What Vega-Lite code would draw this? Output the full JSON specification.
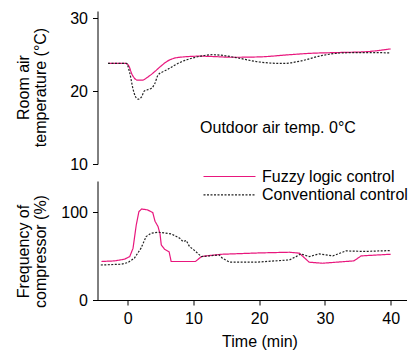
{
  "$schema": "https://vega.github.io/schema/vega-lite/v6.json",
  "padding": {"left": 14.5, "top": 10, "right": 5, "bottom": 5},
  "bounds": "flush",
  "spacing": 17,
  "config": {
    "view": {"stroke": null},
    "font": "Liberation Sans",
    "axis": {
      "domainColor": "black", "tickColor": "black", "labelColor": "black", "titleColor": "black",
      "labelFontSize": 16, "titleFontSize": 16, "titleFontWeight": "normal", "grid": false,
      "tickSize": 5, "domainWidth": 1, "tickWidth": 1, "labelPadding": 5
    },
    "legend": {"labelFontSize": 16, "labelColor": "black"}
  },
  "datasets": {
    "series": [
      {"panel": "temp", "series": "Fuzzy logic control", "t": -3.0, "v": 23.8},
      {"panel": "temp", "series": "Fuzzy logic control", "t": -0.3, "v": 23.8},
      {"panel": "temp", "series": "Fuzzy logic control", "t": 0.2, "v": 23.4},
      {"panel": "temp", "series": "Fuzzy logic control", "t": 0.6, "v": 22.4},
      {"panel": "temp", "series": "Fuzzy logic control", "t": 1.0, "v": 21.8},
      {"panel": "temp", "series": "Fuzzy logic control", "t": 1.5, "v": 21.5},
      {"panel": "temp", "series": "Fuzzy logic control", "t": 2.2, "v": 21.5},
      {"panel": "temp", "series": "Fuzzy logic control", "t": 3.0, "v": 21.9},
      {"panel": "temp", "series": "Fuzzy logic control", "t": 4.0, "v": 22.6},
      {"panel": "temp", "series": "Fuzzy logic control", "t": 5.0, "v": 23.4},
      {"panel": "temp", "series": "Fuzzy logic control", "t": 6.0, "v": 24.1},
      {"panel": "temp", "series": "Fuzzy logic control", "t": 7.0, "v": 24.5},
      {"panel": "temp", "series": "Fuzzy logic control", "t": 8.5, "v": 24.7},
      {"panel": "temp", "series": "Fuzzy logic control", "t": 11.0, "v": 24.8},
      {"panel": "temp", "series": "Fuzzy logic control", "t": 13.0, "v": 24.75},
      {"panel": "temp", "series": "Fuzzy logic control", "t": 16.0, "v": 24.65},
      {"panel": "temp", "series": "Fuzzy logic control", "t": 20.0, "v": 24.7},
      {"panel": "temp", "series": "Fuzzy logic control", "t": 24.6, "v": 25.0},
      {"panel": "temp", "series": "Fuzzy logic control", "t": 28.0, "v": 25.2},
      {"panel": "temp", "series": "Fuzzy logic control", "t": 32.0, "v": 25.3},
      {"panel": "temp", "series": "Fuzzy logic control", "t": 36.0, "v": 25.4},
      {"panel": "temp", "series": "Fuzzy logic control", "t": 40.0, "v": 25.8},
      {"panel": "temp", "series": "Conventional control", "t": -3.0, "v": 23.8},
      {"panel": "temp", "series": "Conventional control", "t": -0.2, "v": 23.8},
      {"panel": "temp", "series": "Conventional control", "t": 0.3, "v": 22.5},
      {"panel": "temp", "series": "Conventional control", "t": 0.8, "v": 20.3},
      {"panel": "temp", "series": "Conventional control", "t": 1.2, "v": 19.2},
      {"panel": "temp", "series": "Conventional control", "t": 1.6, "v": 18.9},
      {"panel": "temp", "series": "Conventional control", "t": 2.1, "v": 19.2},
      {"panel": "temp", "series": "Conventional control", "t": 2.5, "v": 20.0},
      {"panel": "temp", "series": "Conventional control", "t": 3.0, "v": 20.2},
      {"panel": "temp", "series": "Conventional control", "t": 3.6, "v": 20.4},
      {"panel": "temp", "series": "Conventional control", "t": 4.1, "v": 21.0},
      {"panel": "temp", "series": "Conventional control", "t": 4.6, "v": 22.2},
      {"panel": "temp", "series": "Conventional control", "t": 5.2, "v": 22.6},
      {"panel": "temp", "series": "Conventional control", "t": 6.1, "v": 23.0},
      {"panel": "temp", "series": "Conventional control", "t": 7.0, "v": 23.5},
      {"panel": "temp", "series": "Conventional control", "t": 8.1, "v": 24.0},
      {"panel": "temp", "series": "Conventional control", "t": 10.1, "v": 24.6},
      {"panel": "temp", "series": "Conventional control", "t": 12.9, "v": 25.0},
      {"panel": "temp", "series": "Conventional control", "t": 14.5, "v": 24.9},
      {"panel": "temp", "series": "Conventional control", "t": 16.5, "v": 24.6},
      {"panel": "temp", "series": "Conventional control", "t": 20.0, "v": 24.0},
      {"panel": "temp", "series": "Conventional control", "t": 23.6, "v": 23.8},
      {"panel": "temp", "series": "Conventional control", "t": 26.1, "v": 24.1},
      {"panel": "temp", "series": "Conventional control", "t": 29.6, "v": 24.9},
      {"panel": "temp", "series": "Conventional control", "t": 32.7, "v": 25.25},
      {"panel": "temp", "series": "Conventional control", "t": 36.0, "v": 25.3},
      {"panel": "temp", "series": "Conventional control", "t": 40.0, "v": 25.25},
      {"panel": "freq", "series": "Fuzzy logic control", "t": -4.0, "v": 44},
      {"panel": "freq", "series": "Fuzzy logic control", "t": -2.0, "v": 44.7},
      {"panel": "freq", "series": "Fuzzy logic control", "t": -0.5, "v": 46.6},
      {"panel": "freq", "series": "Fuzzy logic control", "t": 0.3, "v": 49.6},
      {"panel": "freq", "series": "Fuzzy logic control", "t": 0.8, "v": 59},
      {"panel": "freq", "series": "Fuzzy logic control", "t": 1.3, "v": 86},
      {"panel": "freq", "series": "Fuzzy logic control", "t": 1.7, "v": 101},
      {"panel": "freq", "series": "Fuzzy logic control", "t": 2.1, "v": 104},
      {"panel": "freq", "series": "Fuzzy logic control", "t": 3.0, "v": 103},
      {"panel": "freq", "series": "Fuzzy logic control", "t": 3.8, "v": 100},
      {"panel": "freq", "series": "Fuzzy logic control", "t": 4.15, "v": 90},
      {"panel": "freq", "series": "Fuzzy logic control", "t": 4.6, "v": 84},
      {"panel": "freq", "series": "Fuzzy logic control", "t": 4.9, "v": 76},
      {"panel": "freq", "series": "Fuzzy logic control", "t": 5.1, "v": 63},
      {"panel": "freq", "series": "Fuzzy logic control", "t": 5.6, "v": 58},
      {"panel": "freq", "series": "Fuzzy logic control", "t": 6.3, "v": 55},
      {"panel": "freq", "series": "Fuzzy logic control", "t": 6.6, "v": 44},
      {"panel": "freq", "series": "Fuzzy logic control", "t": 10.3, "v": 44},
      {"panel": "freq", "series": "Fuzzy logic control", "t": 11.2, "v": 49.6},
      {"panel": "freq", "series": "Fuzzy logic control", "t": 12.0, "v": 50.5},
      {"panel": "freq", "series": "Fuzzy logic control", "t": 14.4, "v": 52.3},
      {"panel": "freq", "series": "Fuzzy logic control", "t": 20.0, "v": 53.8},
      {"panel": "freq", "series": "Fuzzy logic control", "t": 24.6, "v": 54.6},
      {"panel": "freq", "series": "Fuzzy logic control", "t": 26.1, "v": 53.5},
      {"panel": "freq", "series": "Fuzzy logic control", "t": 27.6, "v": 43.2},
      {"panel": "freq", "series": "Fuzzy logic control", "t": 29.6, "v": 42},
      {"panel": "freq", "series": "Fuzzy logic control", "t": 34.4, "v": 44.7},
      {"panel": "freq", "series": "Fuzzy logic control", "t": 35.5, "v": 50.4},
      {"panel": "freq", "series": "Fuzzy logic control", "t": 40.0, "v": 52.3},
      {"panel": "freq", "series": "Conventional control", "t": -4.1, "v": 40},
      {"panel": "freq", "series": "Conventional control", "t": -1.0, "v": 40.9},
      {"panel": "freq", "series": "Conventional control", "t": 0.0, "v": 42.7},
      {"panel": "freq", "series": "Conventional control", "t": 1.0, "v": 47.7},
      {"panel": "freq", "series": "Conventional control", "t": 2.0, "v": 59},
      {"panel": "freq", "series": "Conventional control", "t": 2.8, "v": 72.5},
      {"panel": "freq", "series": "Conventional control", "t": 3.55, "v": 76.4},
      {"panel": "freq", "series": "Conventional control", "t": 4.6, "v": 77.5},
      {"panel": "freq", "series": "Conventional control", "t": 6.6, "v": 75.6},
      {"panel": "freq", "series": "Conventional control", "t": 7.9, "v": 70.7},
      {"panel": "freq", "series": "Conventional control", "t": 8.4, "v": 66.8},
      {"panel": "freq", "series": "Conventional control", "t": 8.9, "v": 68},
      {"panel": "freq", "series": "Conventional control", "t": 9.4, "v": 61},
      {"panel": "freq", "series": "Conventional control", "t": 10.1, "v": 57},
      {"panel": "freq", "series": "Conventional control", "t": 11.2, "v": 49.6},
      {"panel": "freq", "series": "Conventional control", "t": 12.5, "v": 50.5},
      {"panel": "freq", "series": "Conventional control", "t": 13.9, "v": 51.5},
      {"panel": "freq", "series": "Conventional control", "t": 14.4, "v": 47.7},
      {"panel": "freq", "series": "Conventional control", "t": 15.5, "v": 43.2},
      {"panel": "freq", "series": "Conventional control", "t": 19.5, "v": 43.2},
      {"panel": "freq", "series": "Conventional control", "t": 24.6, "v": 45.8},
      {"panel": "freq", "series": "Conventional control", "t": 25.6, "v": 49.6},
      {"panel": "freq", "series": "Conventional control", "t": 26.35, "v": 52.7},
      {"panel": "freq", "series": "Conventional control", "t": 27.6, "v": 49.6},
      {"panel": "freq", "series": "Conventional control", "t": 29.1, "v": 52.7},
      {"panel": "freq", "series": "Conventional control", "t": 31.2, "v": 50.4},
      {"panel": "freq", "series": "Conventional control", "t": 33.2, "v": 56.1},
      {"panel": "freq", "series": "Conventional control", "t": 36.0, "v": 55.5},
      {"panel": "freq", "series": "Conventional control", "t": 40.0, "v": 56.5}
    ],
    "notes": [
      {"t": 11.0, "v": 15.0, "label": "Outdoor air temp. 0°C"}
    ]
  },
  "resolve": {"scale": {"color": "independent", "strokeDash": "independent"}},
  "vconcat": [
    {
      "width": 309,
      "height": 153,
      "layer": [
        {
          "data": {"name": "series"},
          "transform": [{"filter": "datum.panel === 'temp'"}],
          "mark": {"type": "line", "strokeWidth": 1.2, "interpolate": "monotone"},
          "encoding": {
            "x": {"field": "t", "type": "quantitative", "scale": {"domain": [-4.6, 42.4], "nice": false}, "axis": null},
            "y": {"field": "v", "type": "quantitative", "scale": {"domain": [10, 31], "nice": false, "zero": false},
              "axis": {"values": [10, 20, 30], "title": ["Room air", "temperature (°C)"], "titleLineHeight": 17, "titleBaseline": "middle", "titleX": -74, "titleY": 76}},
            "color": {"field": "series", "type": "nominal", "scale": {"domain": ["Fuzzy logic control", "Conventional control"], "range": ["#e8177d", "#222222"]}, "legend": null},
            "strokeDash": {"field": "series", "type": "nominal", "scale": {"domain": ["Fuzzy logic control", "Conventional control"], "range": [[1, 0], [2, 1.5]]}, "legend": null}
          }
        },
        {
          "data": {"name": "notes"},
          "mark": {"type": "text", "align": "left", "baseline": "middle", "fontSize": 16, "color": "black"},
          "encoding": {
            "x": {"field": "t", "type": "quantitative"},
            "y": {"field": "v", "type": "quantitative"},
            "text": {"field": "label"}
          }
        }
      ]
    },
    {
      "width": 309,
      "height": 119,
      "data": {"name": "series"},
      "transform": [{"filter": "datum.panel === 'freq'"}],
      "mark": {"type": "line", "strokeWidth": 1.2},
      "encoding": {
        "x": {"field": "t", "type": "quantitative", "scale": {"domain": [-4.6, 42.4], "nice": false},
          "axis": {"values": [0, 10, 20, 30, 40], "title": "Time (min)", "titleX": 162, "titleY": 33, "titleBaseline": "top"}},
        "y": {"field": "v", "type": "quantitative", "scale": {"domain": [0, 136], "nice": false},
          "axis": {"values": [0, 100], "title": ["Frequency of", "compressor (%)"], "titleLineHeight": 17, "titleBaseline": "middle", "titleX": -74, "titleY": 70}},
        "color": {"field": "series", "type": "nominal", "scale": {"domain": ["Fuzzy logic control", "Conventional control"], "range": ["#e8177d", "#222222"]},
          "legend": {"title": null, "orient": "none", "legendX": 124, "legendY": -12.5, "symbolType": "M-26,0H26", "symbolSize": 4, "symbolStrokeWidth": 1.2, "labelOffset": 24.5, "rowPadding": 2.3, "padding": 0}},
        "strokeDash": {"field": "series", "type": "nominal", "scale": {"domain": ["Fuzzy logic control", "Conventional control"], "range": [[1, 0], [2, 1.5]]},
          "legend": {"title": null, "orient": "none", "legendX": 124, "legendY": -12.5, "symbolType": "M-26,0H26", "symbolSize": 4, "symbolStrokeWidth": 1.2, "labelOffset": 24.5, "rowPadding": 2.3, "padding": 0}}
      }
    }
  ]
}
